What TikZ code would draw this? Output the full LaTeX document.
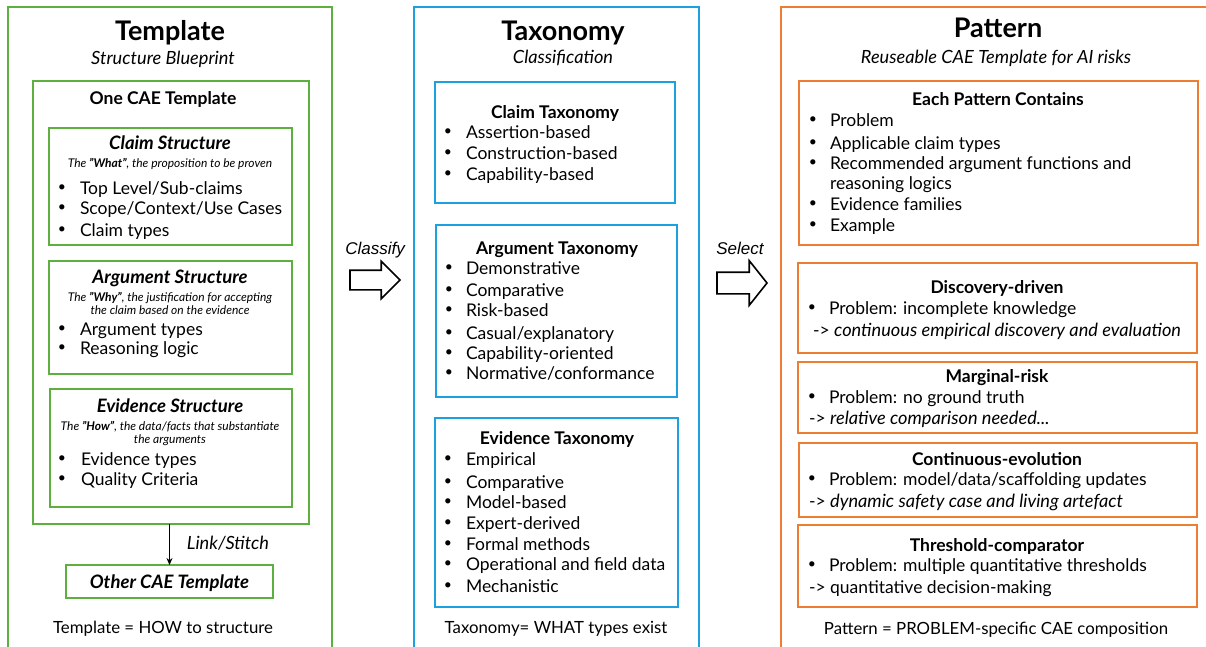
\documentclass[tikz,border=0pt]{standalone}
\usepackage{fontspec}
\setmainfont{Lato}
\newfontfamily\arialfont{Liberation Sans}
\usetikzlibrary{arrows.meta,shapes.arrows}
\definecolor{cgreen}{RGB}{92,176,62}
\definecolor{cblue}{RGB}{28,161,222}
\definecolor{corange}{RGB}{237,125,49}
\newcommand\myfs[1]{\fontsize{#1}{#1}\selectfont}
\tikzset{
  every node/.style={inner sep=0pt, outer sep=0pt},
  frame/.style={draw=#1, line width=2pt, rectangle, anchor=north west},
  txt/.style={anchor=west, text height=1.45em, text depth=0.2em},
  ctxt/.style={anchor=center, text height=1.45em, text depth=0.2em},
  bigtitle/.style={ctxt, font=\myfs{27}\bfseries},
  subt/.style={ctxt, font=\myfs{18.2}\itshape},
  hd/.style={ctxt, font=\myfs{17.5}\bfseries},
  hdi/.style={ctxt, font=\myfs{18.5}\bfseries\itshape},
  tiny/.style={ctxt, font=\myfs{12}\itshape},
  bul/.style={txt, font=\myfs{17.5}},
  itl/.style={txt, font=\myfs{17.5}},
  dot/.style={anchor=center, font=\myfs{14}, yshift=-0.5pt},
  foot/.style={ctxt, font=\myfs{16.8}},
  blockarrow/.style={single arrow, draw=black, line width=1.6pt, fill=white,
     inner sep=9pt, single arrow head extend=9pt, minimum height=50pt, anchor=tail},
  lbl/.style={ctxt, font=\myfs{17}\arialfont\itshape},
}
% #1 name, #2 dot x, #3 text x, #4 y, #5 text
\newcommand\bitem[5]{%
  \node[dot] (#1d) at (#2,#4) {•};
  \node[bul] (#1) at (#3,#4) {#5};}
\newcommand\itx[1]{{\fontsize{18.2}{18.2}\selectfont\itshape #1}}
\begin{document}
\begin{tikzpicture}[x=1pt,y=-1pt]
\useasboundingbox (0,0) rectangle (1206,647);
\clip (0,0) rectangle (1206,647);
\fill[white] (0,0) rectangle (1206,647);

% ================= Template panel
\node[frame=cgreen, minimum width=324, minimum height=660] (tpanel) at (8,7) {};
\node[bigtitle] (ttitle) at (170,34) {Template};
\node[subt] (tsub) at (163,58) {Structure Blueprint};
\node[frame=cgreen, minimum width=276, minimum height=443] (cae) at (33,81) {};
\node[hd] (cael) at (163,98) {One CAE Template};

\node[frame=cgreen, minimum width=243, minimum height=117] (cs) at (49,128) {};
\node[hdi] (cst) at (170,143) {Claim Structure};
\node[tiny] (css) at (170,161) {The \textbf{"What"}, the proposition to be proven};
\bitem{cs1}{62}{80}{188}{Top Level/Sub-claims}
\bitem{cs2}{62}{80}{208}{Scope/Context/Use Cases}
\bitem{cs3}{62}{80}{230}{Claim types}

\node[frame=cgreen, minimum width=243, minimum height=113] (as) at (49,261) {};
\node[hdi] (ast) at (170,277) {Argument Structure};
\node[tiny] (ass1) at (170,295) {The \textbf{"Why"}, the justification for accepting};
\node[tiny] (ass2) at (170,308) {the claim based on the evidence};
\bitem{as1}{62}{80}{329}{Argument types}
\bitem{as2}{62}{80}{348}{Reasoning logic}

\node[frame=cgreen, minimum width=242, minimum height=118] (es) at (50,389) {};
\node[hdi] (est) at (170,406) {Evidence Structure};
\node[tiny] (ess1) at (170,424) {The \textbf{"How"}, the data/facts that substantiate};
\node[tiny] (ess2) at (170,437) {the arguments};
\bitem{es1}{62}{81}{459}{Evidence types}
\bitem{es2}{62}{81}{479}{Quality Criteria}

\node[frame=cgreen, minimum width=207, minimum height=33] (other) at (66,565) {};
\node[hdi] (otherl) at (169.5,582) {Other CAE Template};
\draw[line width=1pt, -{Stealth[length=7pt,width=6pt]}] (other.north |- cae.south) -- (other.north);
\node[subt] (link) at (228,543) {Link/Stitch};
\node[foot] (tfoot) at (163,627) {Template = HOW to structure};

% ================= Taxonomy panel
\node[frame=cblue, minimum width=285, minimum height=660] (xpanel) at (414,7) {};
\node[bigtitle] (xtitle) at (563,34) {Taxonomy};
\node[subt] (xsub) at (563,57) {Classification};

\node[frame=cblue, minimum width=240, minimum height=121] (ct) at (435,82) {};
\node[hd] (ctt) at (555,112) {Claim Taxonomy};
\bitem{ct1}{448}{466}{132}{Assertion-based}
\bitem{ct2}{448}{466}{153}{Construction-based}
\bitem{ct3}{448}{466}{174}{Capability-based}

\node[frame=cblue, minimum width=241, minimum height=172] (at) at (436,225) {};
\node[hd] (att) at (557,248) {Argument Taxonomy};
\bitem{at1}{449}{466}{268}{Demonstrative}
\bitem{at2}{449}{466}{290}{Comparative}
\bitem{at3}{449}{466}{310}{Risk-based}
\bitem{at4}{449}{466}{333}{Casual/explanatory}
\bitem{at5}{449}{466}{353}{Capability-oriented}
\bitem{at6}{449}{466}{373}{Normative/conformance}

\node[frame=cblue, minimum width=243, minimum height=189] (et) at (435,418) {};
\node[hd] (ett) at (557,438) {Evidence Taxonomy};
\bitem{et1}{448}{466}{459}{Empirical}
\bitem{et2}{448}{466}{482}{Comparative}
\bitem{et3}{448}{466}{502}{Model-based}
\bitem{et4}{448}{466}{523}{Expert-derived}
\bitem{et5}{448}{466}{544}{Formal methods}
\bitem{et6}{448}{466}{564}{Operational and field data}
\bitem{et7}{448}{466}{586}{Mechanistic}
\node[foot] (xfoot) at (556,627) {Taxonomy= WHAT types exist};

% ================= block arrows
\node[blockarrow] (classify) at (350,280) {};
\node[lbl] (classifyl) at (375,248) {Classify};
\node[blockarrow, inner sep=10pt, single arrow head extend=11.5pt, single arrow tip angle=103] (select) at (717,283) {};
\node[lbl] (selectl) at (740,248) {Select};

% ================= Pattern panel
\node[frame=corange, minimum width=440, minimum height=660] (ppanel) at (781,7) {};
\node[bigtitle] (ptitle) at (998,31) {Pattern};
\node[subt] (psub) at (996,57) {Reuseable CAE Template for AI risks};

\node[frame=corange, minimum width=399, minimum height=164] (ep) at (799,81) {};
\node[hd] (ept) at (998,99) {Each Pattern Contains};
\bitem{ep1}{813}{830}{120}{Problem}
\bitem{ep2}{813}{830}{143}{Applicable claim types}
\bitem{ep3}{813}{830}{163}{Recommended argument functions and}
\node[bul] (ep3b) at (830,183) {reasoning logics};
\bitem{ep4}{813}{830}{204}{Evidence families}
\bitem{ep5}{813}{830}{225}{Example}

\node[frame=corange, minimum width=399, minimum height=90] (dd) at (798,263) {};
\node[hd] (ddt) at (997,287) {Discovery-driven};
\bitem{dd1}{812}{829}{308}{Problem: incomplete knowledge}
\node[itl] (dd2) at (813,330) {-> \itx{continuous empirical discovery and evaluation}};

\node[frame=corange, minimum width=399, minimum height=71] (mr) at (798,362) {};
\node[hd] (mrt) at (997,376) {Marginal-risk};
\bitem{mr1}{812}{829}{397}{Problem: no ground truth}
\node[itl] (mr2) at (809,418) {-> \itx{relative comparison needed...}};

\node[frame=corange, minimum width=398, minimum height=74] (ce) at (799,443) {};
\node[hd] (cet) at (997,459) {Continuous-evolution};
\bitem{ce1}{812}{829}{479}{Problem: model/data/scaffolding updates}
\node[itl] (ce2) at (809,501) {-> \itx{dynamic safety case and living artefact}};

\node[frame=corange, minimum width=399, minimum height=82] (tc) at (798,525) {};
\node[hd] (tct) at (997,545) {Threshold-comparator};
\bitem{tc1}{812}{829}{565}{Problem: multiple quantitative thresholds}
\node[bul] (tc2) at (809,587) {-> quantitative decision-making};
\node[foot] (pfoot) at (996,628) {Pattern = PROBLEM-specific CAE composition};
\end{tikzpicture}
\end{document}
